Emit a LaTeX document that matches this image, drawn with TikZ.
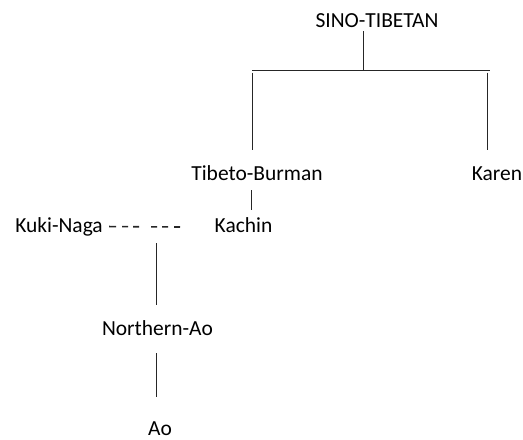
\documentclass[tikz,border=0pt]{standalone}
\usepackage{fontspec}
\setmainfont{Carlito}

\begin{document}
\begin{tikzpicture}[x=0.75pt, y=-0.75pt, font=\fontsize{16.1}{19.3}\selectfont]
	\tikzstyle{lang}=[anchor=base, inner sep=0pt, text height=11.25pt, text depth=3pt]
	\tikzstyle{link}=[line width=0.6pt, black!85]
	\useasboundingbox (0,0) rectangle (523,439);
	
	\node[lang](root) at (377,27){SINO-TIBETAN};
	\node[lang](tb) at (257,180){Tibeto-Burman};
	\node[lang](karen) at (497,180){Karen};
	\node[lang](kachin) at (243.5,232){Kachin};
	\node[lang](kuki) at (59,232){Kuki-Naga};
	\node[lang](nao) at (157.5,335){Northern-Ao};
	\node[lang](ao) at (160,435.5){Ao};
	
	\coordinate (bar) at (363,70);
	\coordinate (barL) at (252,70);
	\coordinate (barR) at (490,70);
	\coordinate (barK) at (487.5,70);
	\coordinate (split) at (156,227);
	\coordinate (dashend) at (180,227);
	
	\draw[link] (bar |- root.south) -- (bar);
	\draw[link] (barL) -- (barR);
	\draw[link, shorten <=2pt, shorten >=11.25pt] (barL) -- (barL |- tb.north);
	\draw[link, shorten <=2pt, shorten >=11.25pt] (barK) -- (barK |- karen.north);
	\draw[link, shorten <=4.5pt, shorten >=5.25pt] ([xshift=-4.5pt]tb.south) -- ([xshift=-4.5pt]tb.south |- kachin.north);
	% uncertain link
	\draw[link, line width=1.2pt, shorten <=4.5pt, dash pattern=on 5.25pt off 4.5pt on 4.5pt off 3.75pt on 4.5pt off 9pt on 4.5pt off 3.75pt on 4.5pt off 4.5pt on 4.5pt off 20pt] (kuki.east) -- (dashend);
	\draw[link, shorten <=12pt, shorten >=11.25pt] (split) -- (split |- nao.north);
	\draw[link, shorten <=10.5pt, shorten >=17.25pt] (split |- nao.south) -- (split |- ao.north);
\end{tikzpicture}
\end{document}
